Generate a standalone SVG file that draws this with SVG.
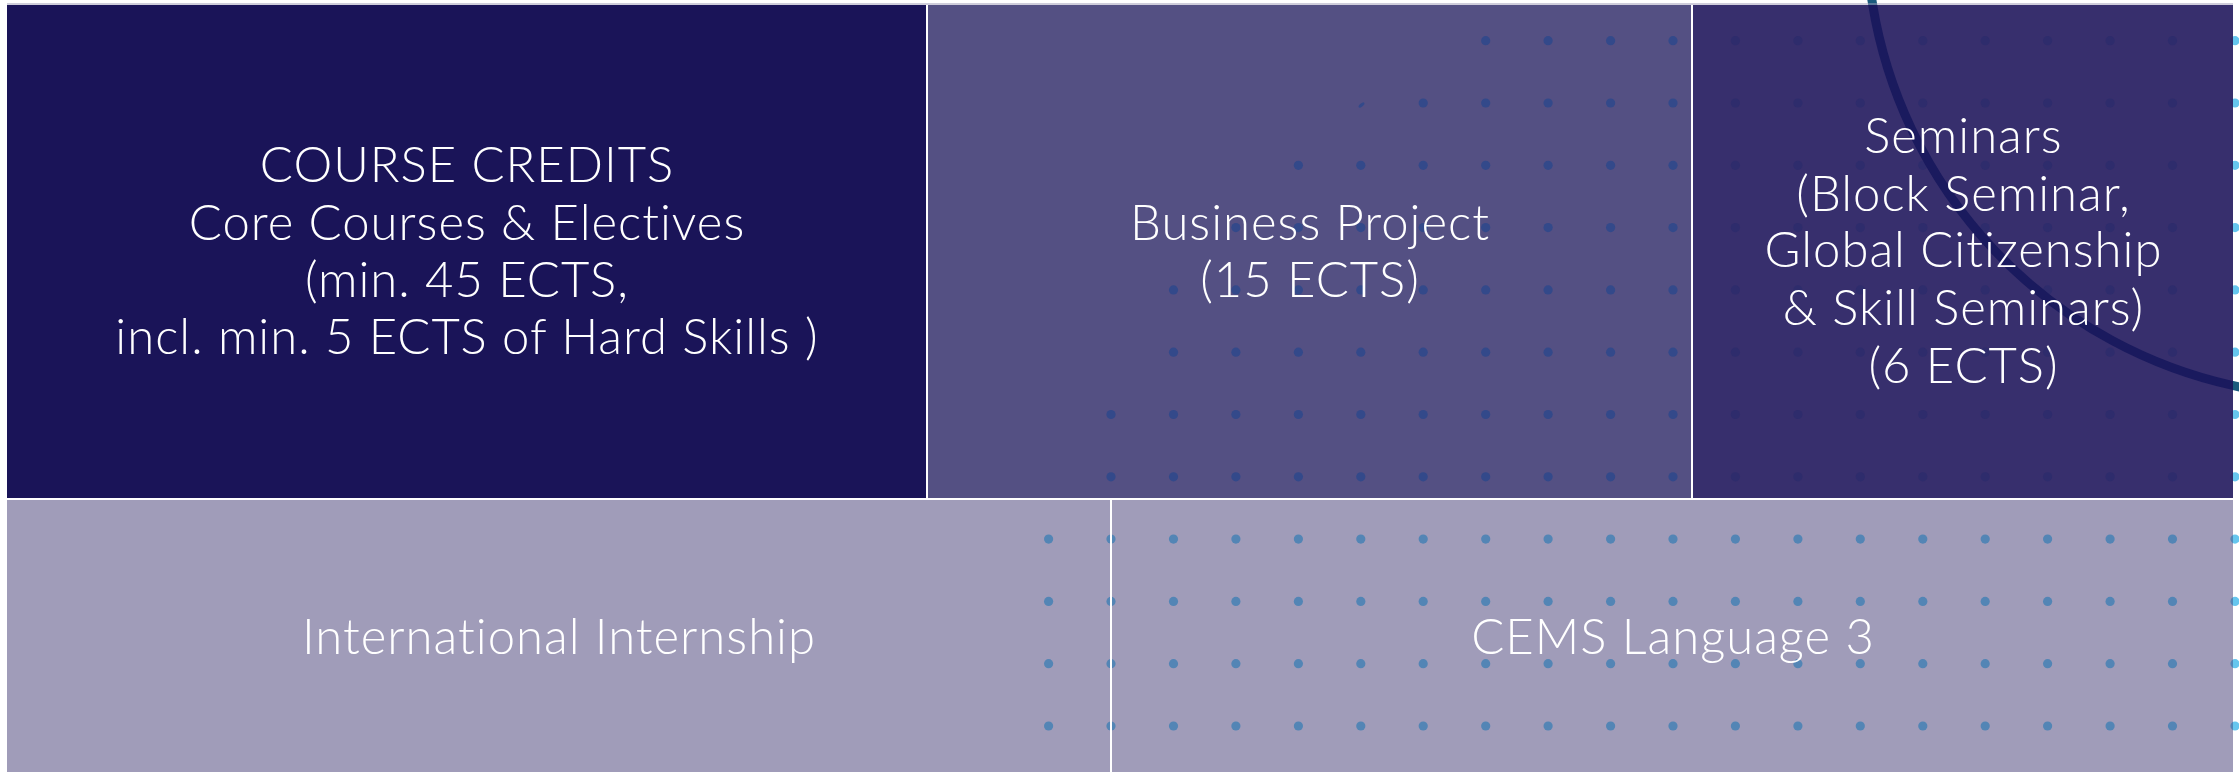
<svg xmlns="http://www.w3.org/2000/svg" width="2239" height="772" viewBox="0 0 2239 772">
  <style>
    .t { font-family: Lato, "Liberation Sans", sans-serif; font-weight: 300; font-size: 49px; letter-spacing: 1px; fill: #ffffff; text-anchor: middle; }
    .dB { fill: #33498a; }
    .dS { fill: #2e2c6c; }
    .dL { fill: #5385b5; }
    .dC { fill: #66c6ee; }
  </style>
  <defs>
    <circle id="d" r="4.6"/>
    <clipPath id="clipSem"><rect x="1693" y="5" width="540" height="493"/></clipPath>
    <clipPath id="clipBot"><rect x="7" y="500" width="1103" height="272"/><rect x="1112" y="500" width="1121" height="272"/></clipPath>
  </defs>
  <rect x="0" y="0" width="2239" height="772" fill="#ffffff"/>
  <g id="background">
    <g class="dC">
      <use href="#d" x="2235" y="40.7"/><use href="#d" x="2235" y="103"/><use href="#d" x="2235" y="165.3"/><use href="#d" x="2235" y="227.6"/><use href="#d" x="2235" y="289.9"/><use href="#d" x="2235" y="352.2"/><use href="#d" x="2235" y="414.5"/><use href="#d" x="2235" y="476.8"/><use href="#d" x="2235" y="539.1"/><use href="#d" x="2235" y="601.4"/><use href="#d" x="2235" y="663.7"/><use href="#d" x="2235" y="726"/>
    </g>
    <path d="M 1871 -6 A 468 468 0 0 0 2245 388" fill="none" stroke="#1b5b7d" stroke-width="9"/>
    <rect x="7" y="3.5" width="2226" height="1" fill="#a09cb8"/>
  </g>
  <g id="course-credits">
    <rect x="7" y="5" width="919" height="493" fill="#1a1458"/>
    <text class="t"><tspan x="467" y="182">COURSE CREDITS</tspan><tspan x="467" y="240">Core Courses &amp; Electives</tspan><tspan x="467" y="297">(min. 45 ECTS,</tspan><tspan x="467" y="354">incl. min. 5 ECTS of Hard Skills )</tspan></text>
  </g>
  <g id="business-project">
    <rect x="928" y="5" width="763" height="493" fill="#545083"/>
    <g class="dB">
      <use href="#d" x="1485.7" y="40.7"/><use href="#d" x="1548.1" y="40.7"/><use href="#d" x="1610.6" y="40.7"/><use href="#d" x="1673" y="40.7"/>
      <use href="#d" x="1423.2" y="103"/><use href="#d" x="1485.7" y="103"/><use href="#d" x="1548.1" y="103"/><use href="#d" x="1610.6" y="103"/><use href="#d" x="1673" y="103"/>
      <use href="#d" x="1298.4" y="165.3"/><use href="#d" x="1360.8" y="165.3"/><use href="#d" x="1423.2" y="165.3"/><use href="#d" x="1485.7" y="165.3"/><use href="#d" x="1548.1" y="165.3"/><use href="#d" x="1610.6" y="165.3"/><use href="#d" x="1673" y="165.3"/>
      <use href="#d" x="1235.9" y="227.6"/><use href="#d" x="1298.4" y="227.6"/><use href="#d" x="1360.8" y="227.6"/><use href="#d" x="1423.2" y="227.6"/><use href="#d" x="1485.7" y="227.6"/><use href="#d" x="1548.1" y="227.6"/><use href="#d" x="1610.6" y="227.6"/><use href="#d" x="1673" y="227.6"/>
      <use href="#d" x="1173.5" y="289.9"/><use href="#d" x="1235.9" y="289.9"/><use href="#d" x="1298.4" y="289.9"/><use href="#d" x="1360.8" y="289.9"/><use href="#d" x="1423.2" y="289.9"/><use href="#d" x="1485.7" y="289.9"/><use href="#d" x="1548.1" y="289.9"/><use href="#d" x="1610.6" y="289.9"/><use href="#d" x="1673" y="289.9"/>
      <use href="#d" x="1173.5" y="352.2"/><use href="#d" x="1235.9" y="352.2"/><use href="#d" x="1298.4" y="352.2"/><use href="#d" x="1360.8" y="352.2"/><use href="#d" x="1423.2" y="352.2"/><use href="#d" x="1485.7" y="352.2"/><use href="#d" x="1548.1" y="352.2"/><use href="#d" x="1610.6" y="352.2"/><use href="#d" x="1673" y="352.2"/>
      <use href="#d" x="1111" y="414.5"/><use href="#d" x="1173.5" y="414.5"/><use href="#d" x="1235.9" y="414.5"/><use href="#d" x="1298.4" y="414.5"/><use href="#d" x="1360.8" y="414.5"/><use href="#d" x="1423.2" y="414.5"/><use href="#d" x="1485.7" y="414.5"/><use href="#d" x="1548.1" y="414.5"/><use href="#d" x="1610.6" y="414.5"/><use href="#d" x="1673" y="414.5"/>
      <use href="#d" x="1111" y="476.8"/><use href="#d" x="1173.5" y="476.8"/><use href="#d" x="1235.9" y="476.8"/><use href="#d" x="1298.4" y="476.8"/><use href="#d" x="1360.8" y="476.8"/><use href="#d" x="1423.2" y="476.8"/><use href="#d" x="1485.7" y="476.8"/><use href="#d" x="1548.1" y="476.8"/><use href="#d" x="1610.6" y="476.8"/><use href="#d" x="1673" y="476.8"/>
      <ellipse cx="1361.5" cy="105" rx="3.6" ry="1.5" transform="rotate(-40 1361.5 105)"/>
    </g>
    <text class="t"><tspan x="1310" y="239.5">Business Project</tspan><tspan x="1310" y="296.5">(15 ECTS)</tspan></text>
  </g>
  <g id="seminars">
    <rect x="1693" y="5" width="540" height="493" fill="#372f6d"/>
    <g class="dS" clip-path="url(#clipSem)">
      <use href="#d" x="1735.4" y="40.7"/><use href="#d" x="1797.9" y="40.7"/><use href="#d" x="1860.3" y="40.7"/><use href="#d" x="1922.8" y="40.7"/><use href="#d" x="1985.2" y="40.7"/><use href="#d" x="2047.6" y="40.7"/><use href="#d" x="2110.1" y="40.7"/><use href="#d" x="2172.5" y="40.7"/><use href="#d" x="2235" y="40.7"/>
      <use href="#d" x="1735.4" y="103"/><use href="#d" x="1797.9" y="103"/><use href="#d" x="1860.3" y="103"/><use href="#d" x="1922.8" y="103"/><use href="#d" x="1985.2" y="103"/><use href="#d" x="2047.6" y="103"/><use href="#d" x="2110.1" y="103"/><use href="#d" x="2172.5" y="103"/><use href="#d" x="2235" y="103"/>
      <use href="#d" x="1735.4" y="165.3"/><use href="#d" x="1797.9" y="165.3"/><use href="#d" x="1860.3" y="165.3"/><use href="#d" x="1922.8" y="165.3"/><use href="#d" x="1985.2" y="165.3"/><use href="#d" x="2047.6" y="165.3"/><use href="#d" x="2110.1" y="165.3"/><use href="#d" x="2172.5" y="165.3"/><use href="#d" x="2235" y="165.3"/>
      <use href="#d" x="1735.4" y="227.6"/><use href="#d" x="1797.9" y="227.6"/><use href="#d" x="1860.3" y="227.6"/><use href="#d" x="1922.8" y="227.6"/><use href="#d" x="1985.2" y="227.6"/><use href="#d" x="2047.6" y="227.6"/><use href="#d" x="2110.1" y="227.6"/><use href="#d" x="2172.5" y="227.6"/><use href="#d" x="2235" y="227.6"/>
      <use href="#d" x="1735.4" y="289.9"/><use href="#d" x="1797.9" y="289.9"/><use href="#d" x="1860.3" y="289.9"/><use href="#d" x="1922.8" y="289.9"/><use href="#d" x="1985.2" y="289.9"/><use href="#d" x="2047.6" y="289.9"/><use href="#d" x="2110.1" y="289.9"/><use href="#d" x="2172.5" y="289.9"/><use href="#d" x="2235" y="289.9"/>
      <use href="#d" x="1735.4" y="352.2"/><use href="#d" x="1797.9" y="352.2"/><use href="#d" x="1860.3" y="352.2"/><use href="#d" x="1922.8" y="352.2"/><use href="#d" x="1985.2" y="352.2"/><use href="#d" x="2047.6" y="352.2"/><use href="#d" x="2110.1" y="352.2"/><use href="#d" x="2172.5" y="352.2"/><use href="#d" x="2235" y="352.2"/>
      <use href="#d" x="1735.4" y="414.5"/><use href="#d" x="1797.9" y="414.5"/><use href="#d" x="1860.3" y="414.5"/><use href="#d" x="1922.8" y="414.5"/><use href="#d" x="1985.2" y="414.5"/><use href="#d" x="2047.6" y="414.5"/><use href="#d" x="2110.1" y="414.5"/><use href="#d" x="2172.5" y="414.5"/><use href="#d" x="2235" y="414.5"/>
      <use href="#d" x="1735.4" y="476.8"/><use href="#d" x="1797.9" y="476.8"/><use href="#d" x="1860.3" y="476.8"/><use href="#d" x="1922.8" y="476.8"/><use href="#d" x="1985.2" y="476.8"/><use href="#d" x="2047.6" y="476.8"/><use href="#d" x="2110.1" y="476.8"/><use href="#d" x="2172.5" y="476.8"/><use href="#d" x="2235" y="476.8"/>
    </g>
    <path d="M 1871 -6 A 468 468 0 0 0 2245 388" fill="none" stroke="#1a1a5e" stroke-width="9" clip-path="url(#clipSem)"/>
    <text class="t"><tspan x="1963.5" y="152.7">Seminars</tspan><tspan x="1963.5" y="210.7">(Block Seminar,</tspan><tspan x="1963.5" y="267.3">Global Citizenship</tspan><tspan x="1963.5" y="325">&amp; Skill Seminars)</tspan><tspan x="1963.5" y="382.7">(6 ECTS)</tspan></text>
  </g>
  <g id="international-internship">
    <rect x="7" y="500" width="1103" height="272" fill="#a09cb9"/>
  </g>
  <g id="cems-language">
    <rect x="1112" y="500" width="1121" height="272" fill="#a09cb9"/>
  </g>
  <g id="bottom-dots" class="dL" clip-path="url(#clipBot)">
    <use href="#d" x="1048.6" y="539.1"/><use href="#d" x="1111" y="539.1"/><use href="#d" x="1173.5" y="539.1"/><use href="#d" x="1235.9" y="539.1"/><use href="#d" x="1298.4" y="539.1"/><use href="#d" x="1360.8" y="539.1"/><use href="#d" x="1423.2" y="539.1"/><use href="#d" x="1485.7" y="539.1"/><use href="#d" x="1548.1" y="539.1"/><use href="#d" x="1610.6" y="539.1"/><use href="#d" x="1673" y="539.1"/><use href="#d" x="1735.4" y="539.1"/><use href="#d" x="1797.9" y="539.1"/><use href="#d" x="1860.3" y="539.1"/><use href="#d" x="1922.8" y="539.1"/><use href="#d" x="1985.2" y="539.1"/><use href="#d" x="2047.6" y="539.1"/><use href="#d" x="2110.1" y="539.1"/><use href="#d" x="2172.5" y="539.1"/><use href="#d" x="2235" y="539.1"/>
    <use href="#d" x="1048.6" y="601.4"/><use href="#d" x="1111" y="601.4"/><use href="#d" x="1173.5" y="601.4"/><use href="#d" x="1235.9" y="601.4"/><use href="#d" x="1298.4" y="601.4"/><use href="#d" x="1360.8" y="601.4"/><use href="#d" x="1423.2" y="601.4"/><use href="#d" x="1485.7" y="601.4"/><use href="#d" x="1548.1" y="601.4"/><use href="#d" x="1610.6" y="601.4"/><use href="#d" x="1673" y="601.4"/><use href="#d" x="1735.4" y="601.4"/><use href="#d" x="1797.9" y="601.4"/><use href="#d" x="1860.3" y="601.4"/><use href="#d" x="1922.8" y="601.4"/><use href="#d" x="1985.2" y="601.4"/><use href="#d" x="2047.6" y="601.4"/><use href="#d" x="2110.1" y="601.4"/><use href="#d" x="2172.5" y="601.4"/><use href="#d" x="2235" y="601.4"/>
    <use href="#d" x="1048.6" y="663.7"/><use href="#d" x="1111" y="663.7"/><use href="#d" x="1173.5" y="663.7"/><use href="#d" x="1235.9" y="663.7"/><use href="#d" x="1298.4" y="663.7"/><use href="#d" x="1360.8" y="663.7"/><use href="#d" x="1423.2" y="663.7"/><use href="#d" x="1485.7" y="663.7"/><use href="#d" x="1548.1" y="663.7"/><use href="#d" x="1610.6" y="663.7"/><use href="#d" x="1673" y="663.7"/><use href="#d" x="1735.4" y="663.7"/><use href="#d" x="1797.9" y="663.7"/><use href="#d" x="1860.3" y="663.7"/><use href="#d" x="1922.8" y="663.7"/><use href="#d" x="1985.2" y="663.7"/><use href="#d" x="2047.6" y="663.7"/><use href="#d" x="2110.1" y="663.7"/><use href="#d" x="2172.5" y="663.7"/><use href="#d" x="2235" y="663.7"/>
    <use href="#d" x="1048.6" y="726"/><use href="#d" x="1111" y="726"/><use href="#d" x="1173.5" y="726"/><use href="#d" x="1235.9" y="726"/><use href="#d" x="1298.4" y="726"/><use href="#d" x="1360.8" y="726"/><use href="#d" x="1423.2" y="726"/><use href="#d" x="1485.7" y="726"/><use href="#d" x="1548.1" y="726"/><use href="#d" x="1610.6" y="726"/><use href="#d" x="1673" y="726"/><use href="#d" x="1735.4" y="726"/><use href="#d" x="1797.9" y="726"/><use href="#d" x="1860.3" y="726"/><use href="#d" x="1922.8" y="726"/><use href="#d" x="1985.2" y="726"/><use href="#d" x="2047.6" y="726"/><use href="#d" x="2110.1" y="726"/><use href="#d" x="2172.5" y="726"/><use href="#d" x="2235" y="726"/>
  </g>
  <g id="labels-bottom">
    <text class="t" x="559" y="654">International Internship</text>
    <text class="t" x="1673" y="654">CEMS Language 3</text>
  </g>
</svg>
